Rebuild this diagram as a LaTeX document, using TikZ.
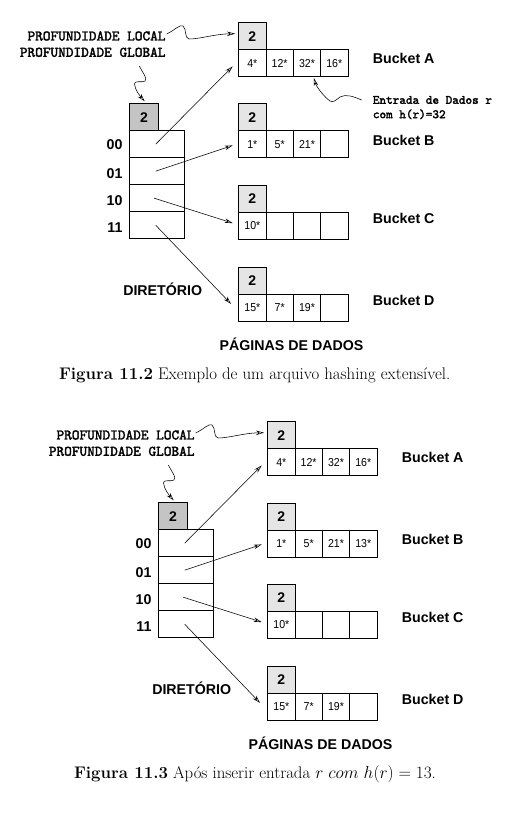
\documentclass[tikz,border=0pt]{standalone}
\usepackage{fontspec}
\usetikzlibrary{arrows.meta}
\newfontfamily\hvf{Liberation Sans}
\newfontfamily\cellf[FakeStretch=0.92]{Liberation Sans}
\newfontfamily\monob[FakeBold=2.2]{lmmono10-regular.otf}
\tikzset{
  box/.style={draw, line width=0.8pt, inner sep=0pt, minimum height=27pt, anchor=north west},
  cellbox/.style={box, minimum width=27.3pt, font=\cellf\fontsize{11.5}{13}\selectfont},
  bhdr/.style={box, minimum width=27.3pt, fill=black!10, font=\hvf\bfseries\fontsize{14}{16}\selectfont},
  dhdr/.style={box, minimum width=28.4pt, fill=black!23, font=\hvf\bfseries\fontsize{14}{16}\selectfont},
  dcell/.style={box, minimum width=55pt},
  lbl/.style={font=\hvf\bfseries\fontsize{14.2}{16}\selectfont, inner sep=0pt},
  monotext/.style={font=\monob\fontsize{14.6}{17}\selectfont, inner sep=0pt},
  monosmall/.style={font=\monob\fontsize{12.6}{15}\selectfont, inner sep=0pt, anchor=west},
  arr/.style={line width=0.55pt, -{Stealth[open,length=8pt,width=4.5pt]}},
  captext/.style={font=\fontsize{16.8}{20}\selectfont, inner sep=0pt},
}
\newcommand\hashfig[2]{%
  % directory
  \node[dhdr] (#1dh) at (129.3,103.3) {2};
  \node[dcell] (#1d0) at (129.3,130.3) {};
  \node[dcell] (#1d1) at (129.3,157.3) {};
  \node[dcell] (#1d2) at (129.3,184.3) {};
  \node[dcell] (#1d3) at (129.3,211.3) {};
  \node[lbl, anchor=east] (#1l0) at (122.7,145) {00};
  \node[lbl, anchor=east] (#1l1) at (122.7,173.3) {01};
  \node[lbl, anchor=east] (#1l2) at (122.7,201) {10};
  \node[lbl, anchor=east] (#1l3) at (122.7,228) {11};
  % bucket A
  \node[bhdr] (#1Ah) at (238.3,22.3) {2};
  \node[cellbox] (#1A1) at (238.3,49.3) {4*};
  \node[cellbox] (#1A2) at (265.6,49.3) {12*};
  \node[cellbox] (#1A3) at (292.9,49.3) {32*};
  \node[cellbox] (#1A4) at (320.2,49.3) {16*};
  % bucket B
  \node[bhdr] (#1Bh) at (238.3,103.5) {2};
  \node[cellbox] (#1B1) at (238.3,130.5) {1*};
  \node[cellbox] (#1B2) at (265.6,130.5) {5*};
  \node[cellbox] (#1B3) at (292.9,130.5) {21*};
  \node[cellbox] (#1B4) at (320.2,130.5) {#2};
  % bucket C
  \node[bhdr] (#1Ch) at (238.3,185) {2};
  \node[cellbox] (#1C1) at (238.3,212) {10*};
  \node[cellbox] (#1C2) at (265.6,212) {};
  \node[cellbox] (#1C3) at (292.9,212) {};
  \node[cellbox] (#1C4) at (320.2,212) {};
  % bucket D
  \node[bhdr] (#1Dh) at (238.3,266.6) {2};
  \node[cellbox] (#1D1) at (238.3,293.6) {15*};
  \node[cellbox] (#1D2) at (265.6,293.6) {7*};
  \node[cellbox] (#1D3) at (292.9,293.6) {19*};
  \node[cellbox] (#1D4) at (320.2,293.6) {};
  % labels
  \node[lbl, anchor=west] (#1bA) at (372.7,58.3) {Bucket A};
  \node[lbl, anchor=west] (#1bB) at (372.7,140) {Bucket B};
  \node[lbl, anchor=west] (#1bC) at (372.7,218.3) {Bucket C};
  \node[lbl, anchor=west] (#1bD) at (372.7,300) {Bucket D};
  \node[lbl] (#1dir) at (162.7,289.3) {DIRETÓRIO};
  \node[lbl] (#1pag) at (291.5,344) {PÁGINAS DE DADOS};
  \node[monotext, anchor=east] (#1pl) at (165.7,36) {PROFUNDIDADE LOCAL};
  \node[monotext, anchor=east] (#1pg) at (165.7,52.3) {PROFUNDIDADE GLOBAL};
  \coordinate (#1gs) at (139.3,66);
  % pointers
  \draw[arr] ([xshift=-1.5pt]#1d0.center) -- ([xshift=-5.6pt,yshift=-3.2pt]#1A1.west);
  \draw[arr] ([xshift=-1.5pt]#1d1.center) -- ([xshift=-5.6pt,yshift=-1pt]#1B1.west);
  \draw[arr] ([xshift=-3pt]#1d2.center) -- ([xshift=-5.6pt,yshift=2.8pt]#1C1.west);
  \draw[arr] ([xshift=-1.5pt]#1d3.center) -- ([xshift=-7.3pt,yshift=3.6pt]#1D1.west);
  % curly annotation arrows
  \draw[arr] ([xshift=1pt,yshift=2pt]#1pl.east) .. controls (175,30) and (180,24) .. (183,26)
     .. controls (187,29) and (184,38) .. (189,39)
     .. controls (200,39) and (215,34) .. ([xshift=-3.3pt,yshift=2.5pt]#1Ah.west);
  \draw[arr] (#1gs) .. controls (142,72) and (148,78) .. (145,81)
     .. controls (142,83) and (134,80) .. (134.5,84)
     .. controls (135,90) and (140,96) .. ([xshift=0.8pt,yshift=2pt]#1dh.north);
}
\begin{document}
\begin{tikzpicture}[x=1pt,y=-1pt]
  \useasboundingbox (0,0) rectangle (517,834);
  \begin{scope}
    \hashfig{t}{}
    \node[monosmall] (te1) at (372.7,100) {Entrada de Dados r};
    \node[monosmall] (te2) at (372.7,114.3) {com h(r)=32};
    \draw[arr] ([xshift=-11pt]te1.west) .. controls (352,96) and (346,94) .. (340,97)
       .. controls (336,100) and (333,103) .. (330,101)
       .. controls (324,97) and (316,86) .. ([xshift=7pt,yshift=-1pt]tA3.south);
  \end{scope}
  \node[captext] (cap1) at (254.7,375) {\textbf{Figura 11.2} Exemplo de um arquivo hashing extensível.};
  \begin{scope}[shift={(29,399)}]
    \hashfig{b}{13*}
  \end{scope}
  \node[captext] (cap2) at (255,774.5) {\textbf{Figura 11.3} Após inserir entrada $r\ com\ h(r) = 13$.};
\end{tikzpicture}
\end{document}
